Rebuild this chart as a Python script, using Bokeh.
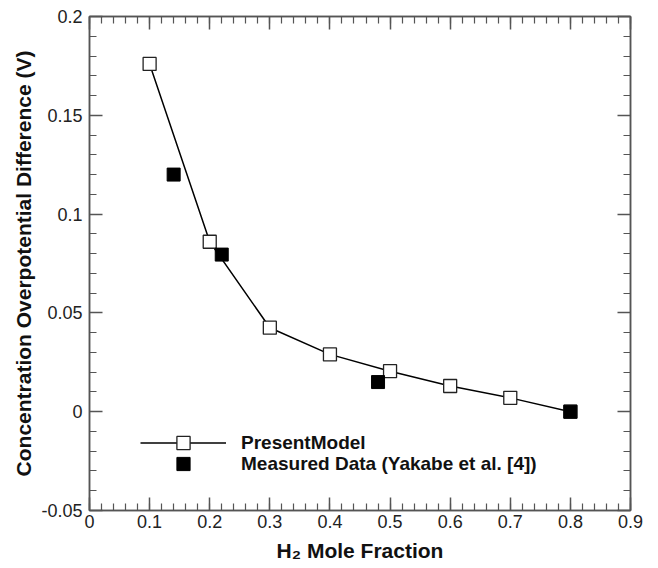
from bokeh.plotting import figure
from bokeh.models import (FixedTicker, LinearAxis, Legend, LegendItem, Range1d)
from bokeh.embed import file_html
from bokeh.resources import INLINE

# Data
model_x = [0.1, 0.2, 0.3, 0.4, 0.5, 0.6, 0.7, 0.8]
model_y = [0.176, 0.086, 0.0425, 0.029, 0.0205, 0.013, 0.007, 0.0]
meas_x = [0.14, 0.22, 0.48, 0.80]
meas_y = [0.12, 0.0795, 0.015, 0.0]

x_ticks = [0, 0.1, 0.2, 0.3, 0.4, 0.5, 0.6, 0.7, 0.8, 0.9]
x_labels = ["0", "0.1", "0.2", "0.3", "0.4", "0.5", "0.6", "0.7", "0.8", "0.9"]
y_ticks = [-0.05, 0, 0.05, 0.1, 0.15, 0.2]
y_labels = ["-0.05", "0", "0.05", "0.1", "0.15", "0.2"]
x_minor = [round(i * 0.02, 4) for i in range(0, 46)]
y_minor = [round(-0.05 + i * 0.01, 4) for i in range(0, 26)]

FONT = "Liberation Sans"
AX = "#555555"

p = figure(width=658, height=568, output_backend="svg", toolbar_location=None,
           x_range=Range1d(0, 0.9), y_range=Range1d(-0.05, 0.2),
           min_border_left=89, min_border_right=28, min_border_top=16,
           min_border_bottom=58, x_axis_location=None, y_axis_location=None)
p.xgrid.visible = False
p.ygrid.visible = False
p.outline_line_color = AX
p.outline_line_width = 1.5
p.background_fill_color = "white"
p.border_fill_color = "white"


def style(ax, show):
    ax.major_tick_in = 13
    ax.major_tick_out = 0
    ax.minor_tick_in = 7
    ax.minor_tick_out = 0
    ax.axis_line_color = AX
    ax.axis_line_width = 1.5
    ax.major_tick_line_color = AX
    ax.minor_tick_line_color = AX
    ax.major_tick_line_width = 1.5
    ax.minor_tick_line_width = 1.2
    ax.major_label_text_font = FONT
    ax.major_label_text_font_size = "18px"
    ax.major_label_text_color = "#222222"
    ax.axis_label_text_font = FONT
    ax.axis_label_text_font_style = "bold"
    ax.axis_label_text_font_size = "21px"
    ax.axis_label_text_color = "#111111"
    if not show:
        ax.major_label_text_font_size = "0px"
        ax.major_label_text_alpha = 0


xb = LinearAxis(ticker=FixedTicker(ticks=x_ticks, minor_ticks=x_minor),
                major_label_overrides={t: l for t, l in zip(x_ticks, x_labels)},
                axis_label="H\u2082 Mole Fraction")
style(xb, True)
xb.major_label_standoff = 4
xb.axis_label_standoff = 8
p.add_layout(xb, "below")

xt = LinearAxis(ticker=FixedTicker(ticks=x_ticks, minor_ticks=x_minor))
style(xt, False)
p.add_layout(xt, "above")

yl = LinearAxis(ticker=FixedTicker(ticks=y_ticks, minor_ticks=y_minor),
                major_label_overrides={t: l for t, l in zip(y_ticks, y_labels)},
                axis_label="Concentration Overpotential Difference (V)")
style(yl, True)
yl.major_label_standoff = 7
yl.axis_label_standoff = 3
p.add_layout(yl, "left")

yr = LinearAxis(ticker=FixedTicker(ticks=y_ticks, minor_ticks=y_minor))
style(yr, False)
p.add_layout(yr, "right")

ln = p.line(model_x, model_y, line_color="black", line_width=1.5)
sq = p.scatter(model_x, model_y, marker="square", size=13, fill_color="white",
               line_color="#222222", line_width=1.3)
ms = p.scatter(meas_x, meas_y, marker="square", size=13, fill_color="black",
               line_color="black")

legend_style = dict(orientation="vertical", glyph_width=86, glyph_height=33,
                    label_height=33, label_standoff=15, spacing=0, padding=0,
                    margin=0, border_line_alpha=0, background_fill_alpha=0,
                    label_text_font=FONT, label_text_font_style="bold",
                    label_text_font_size="19px", label_text_color="#111111")

legend1 = Legend(items=[LegendItem(label="PresentModel", renderers=[ln, sq])],
                 location=(51, 51), **legend_style)
legend2 = Legend(items=[LegendItem(label="Measured Data (Yakabe et al. [4])", renderers=[ms])],
                 location=(51, 30), **legend_style)
p.add_layout(legend1, "center")
p.add_layout(legend2, "center")

open("out.html", "w").write(file_html(p, INLINE))
